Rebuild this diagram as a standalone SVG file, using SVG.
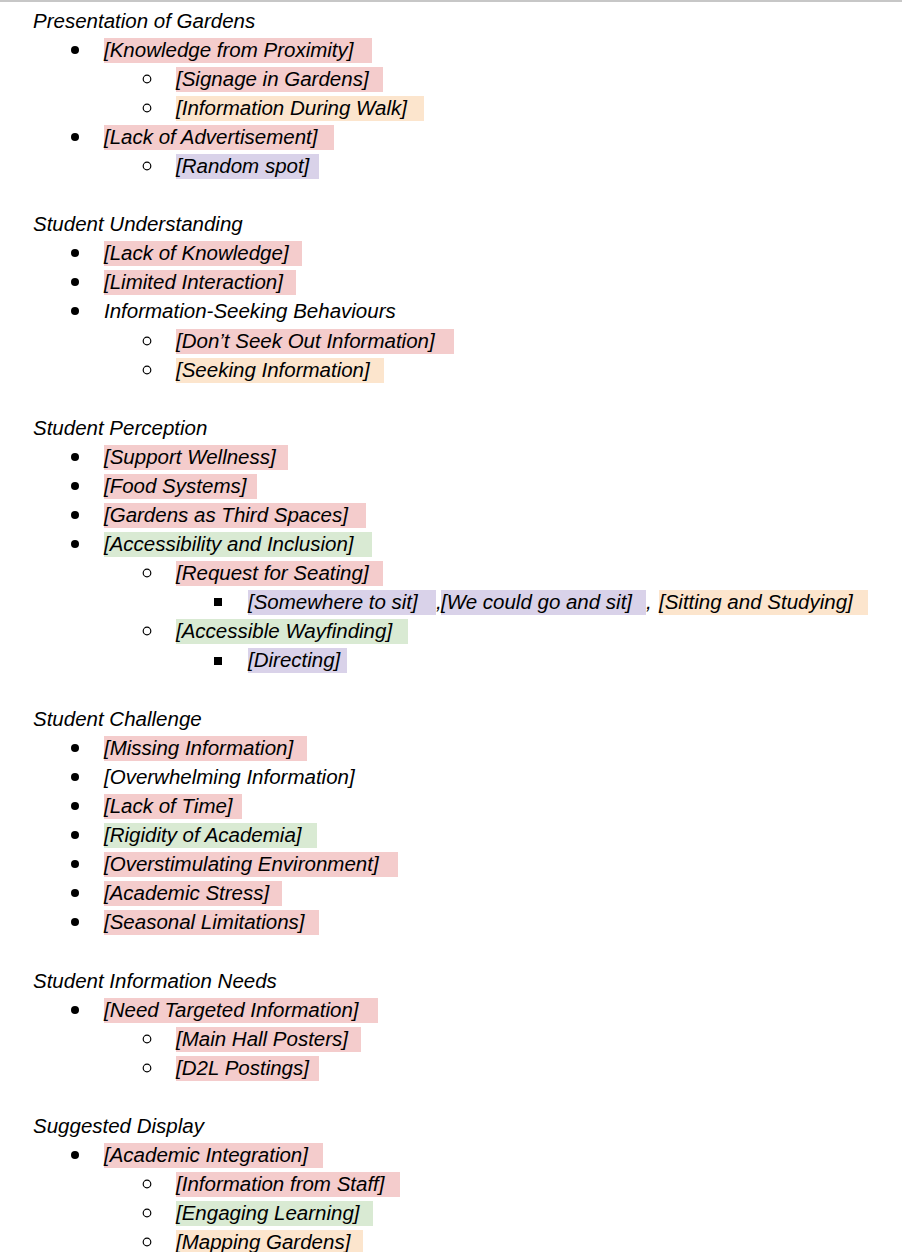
<svg xmlns="http://www.w3.org/2000/svg" width="902" height="1252" viewBox="0 0 902 1252">
<style>
text{font-family:"Liberation Sans",Arial,sans-serif;font-style:italic;font-size:20.5px;fill:#000}
.p{fill:#f4cccc}.o{fill:#fce5cd}.v{fill:#d9d2e9}.g{fill:#d9ead3}
.b{font-style:normal}
</style>
<rect width="902" height="1252" fill="#fff"/>
<rect x="0" y="0" width="902" height="2" fill="#c7c7c7"/>
<g id="highlights">
<rect class="p" x="104" y="38" width="268" height="25"/>
<rect class="p" x="176" y="67" width="207" height="25"/>
<rect class="o" x="176" y="96" width="248" height="25"/>
<rect class="p" x="104" y="125" width="230" height="25"/>
<rect class="v" x="176" y="154" width="143" height="25"/>
<rect class="p" x="104" y="241" width="198" height="25"/>
<rect class="p" x="104" y="270" width="192" height="25"/>
<rect class="p" x="176" y="329" width="278" height="25"/>
<rect class="o" x="176" y="358" width="208" height="25"/>
<rect class="p" x="104" y="445" width="184" height="25"/>
<rect class="p" x="104" y="474" width="153" height="25"/>
<rect class="p" x="104" y="503" width="262" height="25"/>
<rect class="g" x="104" y="532" width="268" height="25"/>
<rect class="p" x="176" y="561" width="207" height="25"/>
<rect class="v" x="248" y="590" width="188" height="25"/>
<rect class="v" x="441" y="590" width="205" height="25"/>
<rect class="o" x="659" y="590" width="209" height="25"/>
<rect class="g" x="176" y="619" width="232" height="25"/>
<rect class="v" x="248" y="648" width="99" height="25"/>
<rect class="p" x="104" y="736" width="203" height="25"/>
<rect class="p" x="104" y="794" width="138" height="25"/>
<rect class="g" x="104" y="823" width="213" height="25"/>
<rect class="p" x="104" y="852" width="294" height="25"/>
<rect class="p" x="104" y="881" width="178" height="25"/>
<rect class="p" x="104" y="910" width="215" height="25"/>
<rect class="p" x="104" y="998" width="274" height="25"/>
<rect class="p" x="176" y="1027" width="185" height="25"/>
<rect class="p" x="176" y="1056" width="143" height="25"/>
<rect class="p" x="104" y="1143" width="219" height="25"/>
<rect class="p" x="176" y="1172" width="224" height="25"/>
<rect class="g" x="176" y="1201" width="197" height="25"/>
<rect class="o" x="176" y="1230" width="187" height="25"/>
</g>
<g id="bullets">
<circle cx="75" cy="50" r="4"/><circle cx="75" cy="137" r="4"/>
<circle cx="75" cy="253" r="4"/><circle cx="75" cy="282" r="4"/><circle cx="75" cy="311" r="4"/>
<circle cx="75" cy="457" r="4"/><circle cx="75" cy="486" r="4"/><circle cx="75" cy="515" r="4"/><circle cx="75" cy="544" r="4"/>
<circle cx="75" cy="748" r="4"/><circle cx="75" cy="777" r="4"/><circle cx="75" cy="806" r="4"/><circle cx="75" cy="835" r="4"/><circle cx="75" cy="864" r="4"/><circle cx="75" cy="893" r="4"/><circle cx="75" cy="922" r="4"/>
<circle cx="75" cy="1010" r="4"/><circle cx="75" cy="1155" r="4"/>
<g fill="none" stroke="#000" stroke-width="1.2">
<circle cx="147" cy="79" r="3.8"/><circle cx="147" cy="108" r="3.8"/><circle cx="147" cy="166" r="3.8"/>
<circle cx="147" cy="341" r="3.8"/><circle cx="147" cy="370" r="3.8"/>
<circle cx="147" cy="573" r="3.8"/><circle cx="147" cy="631" r="3.8"/>
<circle cx="147" cy="1039" r="3.8"/><circle cx="147" cy="1068" r="3.8"/>
<circle cx="147" cy="1184" r="3.8"/><circle cx="147" cy="1213" r="3.8"/><circle cx="147" cy="1242" r="3.8"/>
</g>
<rect x="214" y="598" width="8" height="8"/><rect x="214" y="657" width="8" height="8"/>
</g>
<g id="texts">
<text x="33" y="28">Presentation of Gardens</text>
<text x="104" y="57">[Knowledge from Proximity]</text>
<text x="176" y="86">[Signage in Gardens]</text>
<text x="176" y="115">[Information During Walk]</text>
<text x="104" y="144">[Lack of Advertisement]</text>
<text x="176" y="173">[Random spot]</text>
<text x="33" y="231">Student Understanding</text>
<text x="104" y="260">[Lack of Knowledge]</text>
<text x="104" y="289">[Limited Interaction]</text>
<text x="104" y="318">Information-Seeking Behaviours</text>
<text x="176" y="348">[Don’t Seek Out Information]</text>
<text x="176" y="377">[Seeking Information]</text>
<text x="33" y="435">Student Perception</text>
<text x="104" y="464">[Support Wellness]</text>
<text x="104" y="493">[Food Systems]</text>
<text x="104" y="522">[Gardens as Third Spaces]</text>
<text x="104" y="551">[Accessibility and Inclusion]</text>
<text x="176" y="580">[Request for Seating]</text>
<text x="248" y="609">[Somewhere to sit]</text>
<text x="436" y="609">,</text>
<text x="441" y="609">[We could go and sit]</text>
<text x="646" y="609">,</text>
<text x="659" y="609">[Sitting and Studying]</text>
<text x="176" y="638">[Accessible Wayfinding]</text>
<text x="248" y="667">[Directing]</text>
<text x="33" y="726">Student Challenge</text>
<text x="104" y="755">[Missing Information]</text>
<text x="104" y="784">[Overwhelming Information]</text>
<text x="104" y="813">[Lack of Time]</text>
<text x="104" y="842">[Rigidity of Academia]</text>
<text x="104" y="871">[Overstimulating Environment]</text>
<text x="104" y="900">[Academic Stress]</text>
<text x="104" y="929">[Seasonal Limitations]</text>
<text x="33" y="988">Student Information Needs</text>
<text x="104" y="1017">[Need Targeted Information]</text>
<text x="176" y="1046">[Main Hall Posters]</text>
<text x="176" y="1075">[D2L Postings]</text>
<text x="33" y="1133">Suggested Display</text>
<text x="104" y="1162">[Academic Integration]</text>
<text x="176" y="1191">[Information from Staff]</text>
<text x="176" y="1220">[Engaging Learning]</text>
<text x="176" y="1249">[Mapping Gardens]</text>
</g>
</svg>
